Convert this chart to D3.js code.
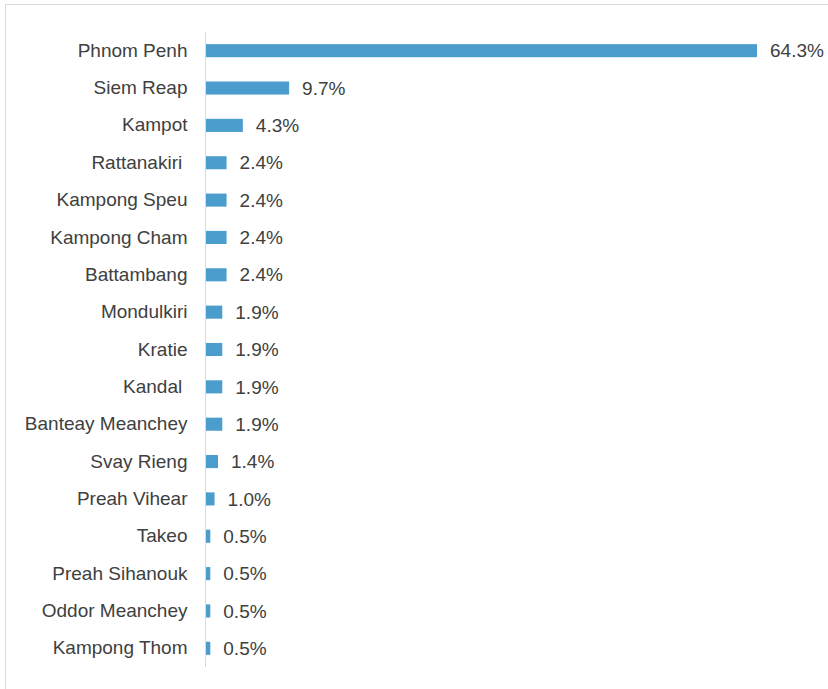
<!DOCTYPE html>
<html>
<head>
<meta charset="utf-8">
<script src="https://cdn.jsdelivr.net/npm/d3@7"></script>
<style>
  html, body { margin: 0; padding: 0; background: #fff; }
  svg { display: block; }
  text { font-family: "Liberation Sans", Arial, Helvetica, sans-serif; }
</style>
</head>
<body>
<svg id="chart" width="828" height="689"></svg>
<script>
const provinces = ["Phnom Penh", "Siem Reap", "Kampot", "Rattanakiri ", "Kampong Speu", "Kampong Cham",
  "Battambang", "Mondulkiri", "Kratie", "Kandal ", "Banteay Meanchey", "Svay Rieng", "Preah Vihear",
  "Takeo", "Preah Sihanouk", "Oddor Meanchey", "Kampong Thom"];
const shares = [64.3, 9.7, 4.3, 2.4, 2.4, 2.4, 2.4, 1.9, 1.9, 1.9, 1.9, 1.4, 1.0, 0.5, 0.5, 0.5, 0.5];

const svg = d3.select("#chart");

// outer chart border
svg.append("rect")
  .attr("x", 5.5).attr("y", 4.5)
  .attr("width", 900).attr("height", 800)
  .attr("fill", "#fff").attr("stroke", "#d9d9d9").attr("stroke-width", 1);

const x = d3.scaleLinear().domain([0, 64.3]).range([206, 757]);
const y = d3.scaleBand().domain(provinces).range([32, 667]).paddingInner(0.65).paddingOuter(0.325);

// bars
svg.selectAll("rect.bar").data(provinces).enter().append("rect")
  .attr("class", "bar")
  .attr("x", x(0))
  .attr("y", d => y(d))
  .attr("width", (d, i) => x(shares[i]) - x(0))
  .attr("height", y.bandwidth())
  .attr("fill", "#4a9dcc");

// axis
const axis = d3.axisLeft(y).tickSize(0).tickPadding(18);
const g = svg.append("g").attr("transform", "translate(205.5,0)").call(axis);
g.select(".domain").attr("stroke", "#d9d9d9").attr("d", "M0,32V667");
g.selectAll(".tick text")
  .attr("font-size", 19)
  .attr("font-family", "Liberation Sans, Arial, sans-serif")
  .attr("fill", "#404040")
  .style("white-space", "pre");

// value labels
svg.selectAll("text.val").data(provinces).enter().append("text")
  .attr("class", "val")
  .attr("x", (d, i) => x(shares[i]) + 13)
  .attr("y", d => y(d) + y.bandwidth() / 2)
  .attr("dy", "0.35em")
  .attr("font-size", 19)
  .attr("fill", "#404040")
  .text((d, i) => shares[i].toFixed(1) + "%");
</script>
</body>
</html>
